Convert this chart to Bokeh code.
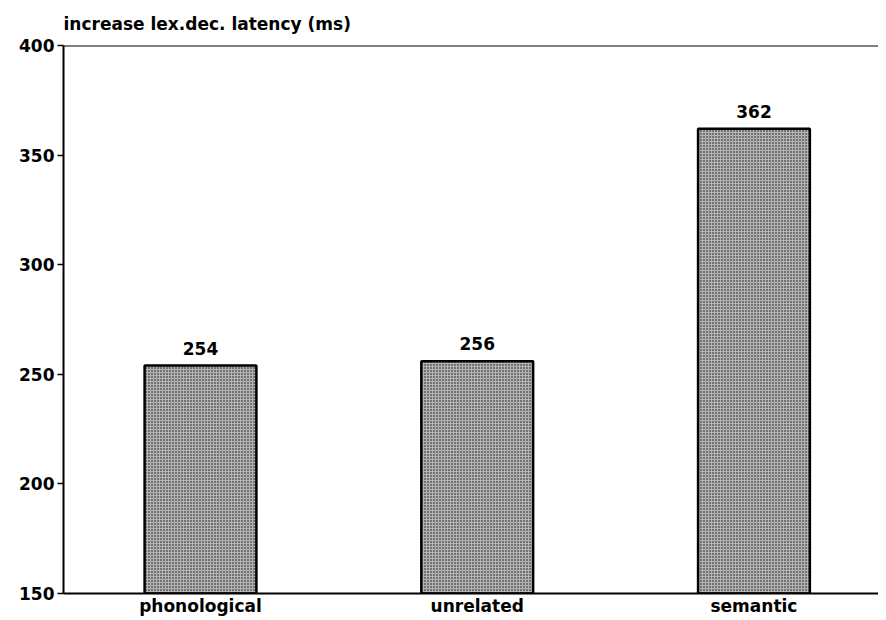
from bokeh.plotting import figure
from bokeh.models import ColumnDataSource, LabelSet, Range1d, FixedTicker, Span
from bokeh.core.properties import value
from bokeh.embed import file_html
from bokeh.resources import INLINE

categories = ["phonological", "unrelated", "semantic"]
values = [254, 256, 362]
yticks = [150, 200, 250, 300, 350, 400]

xpos = [0.5, 1.5, 2.5]
src = ColumnDataSource(dict(x=xpos, top=values, label=[str(v) for v in values], cat=categories))

FONT = "DejaVu Sans"
FS = "17px"

p = figure(width=878, height=618, output_backend="svg", toolbar_location=None,
           x_range=Range1d(0.005, 2.95), y_range=Range1d(150, 400),
           min_border_left=63, min_border_right=0, min_border_top=45, min_border_bottom=0)

p.vbar(x="x", top="top", bottom=150, width=0.404, source=src,
       fill_color="#b4b4b4", line_color="black", line_width=2.5,
       hatch_pattern="dot", hatch_color="#111111", hatch_scale=3, hatch_weight=1.3)

labels = LabelSet(x="x", y="top", text="label", source=src, text_align="center",
                  text_baseline="bottom", y_offset=11, text_font=value(FONT),
                  text_font_size=FS, text_font_style="bold", text_color="black")
p.add_layout(labels)

p.xgrid.visible = False
p.ygrid.visible = False
p.outline_line_color = None

p.yaxis.ticker = FixedTicker(ticks=yticks)
p.yaxis.minor_tick_line_color = None
p.yaxis.major_tick_in = 0
p.yaxis.major_tick_out = 6
p.yaxis.major_tick_line_width = 1.5
p.yaxis.axis_line_width = 2
p.yaxis.major_label_text_font = FONT
p.yaxis.major_label_text_font_size = FS
p.yaxis.major_label_text_font_style = "bold"
p.yaxis.major_label_text_color = "black"
p.yaxis.major_label_standoff = 3

p.xaxis.ticker = FixedTicker(ticks=xpos)
p.xaxis.major_label_overrides = {x: c for x, c in zip(xpos, categories)}
p.xaxis.major_tick_line_color = None
p.xaxis.major_tick_in = 0
p.xaxis.major_tick_out = 0
p.xaxis.minor_tick_line_color = None
p.xaxis.axis_line_width = 2
p.xaxis.major_label_text_font = FONT
p.xaxis.major_label_text_font_size = FS
p.xaxis.major_label_text_font_style = "bold"
p.xaxis.major_label_text_color = "black"
p.xaxis.major_label_standoff = 2

p.add_layout(Span(location=400, dimension="width", line_color="black", line_width=2))

p.title.text = "increase lex.dec. latency (ms)"
p.title.text_font = FONT
p.title.text_font_size = FS
p.title.text_font_style = "bold"
p.title.text_color = "black"
p.title.align = "left"
p.title.offset = 0
p.title.standoff = 23

open("out.html", "w").write(file_html(p, INLINE))
